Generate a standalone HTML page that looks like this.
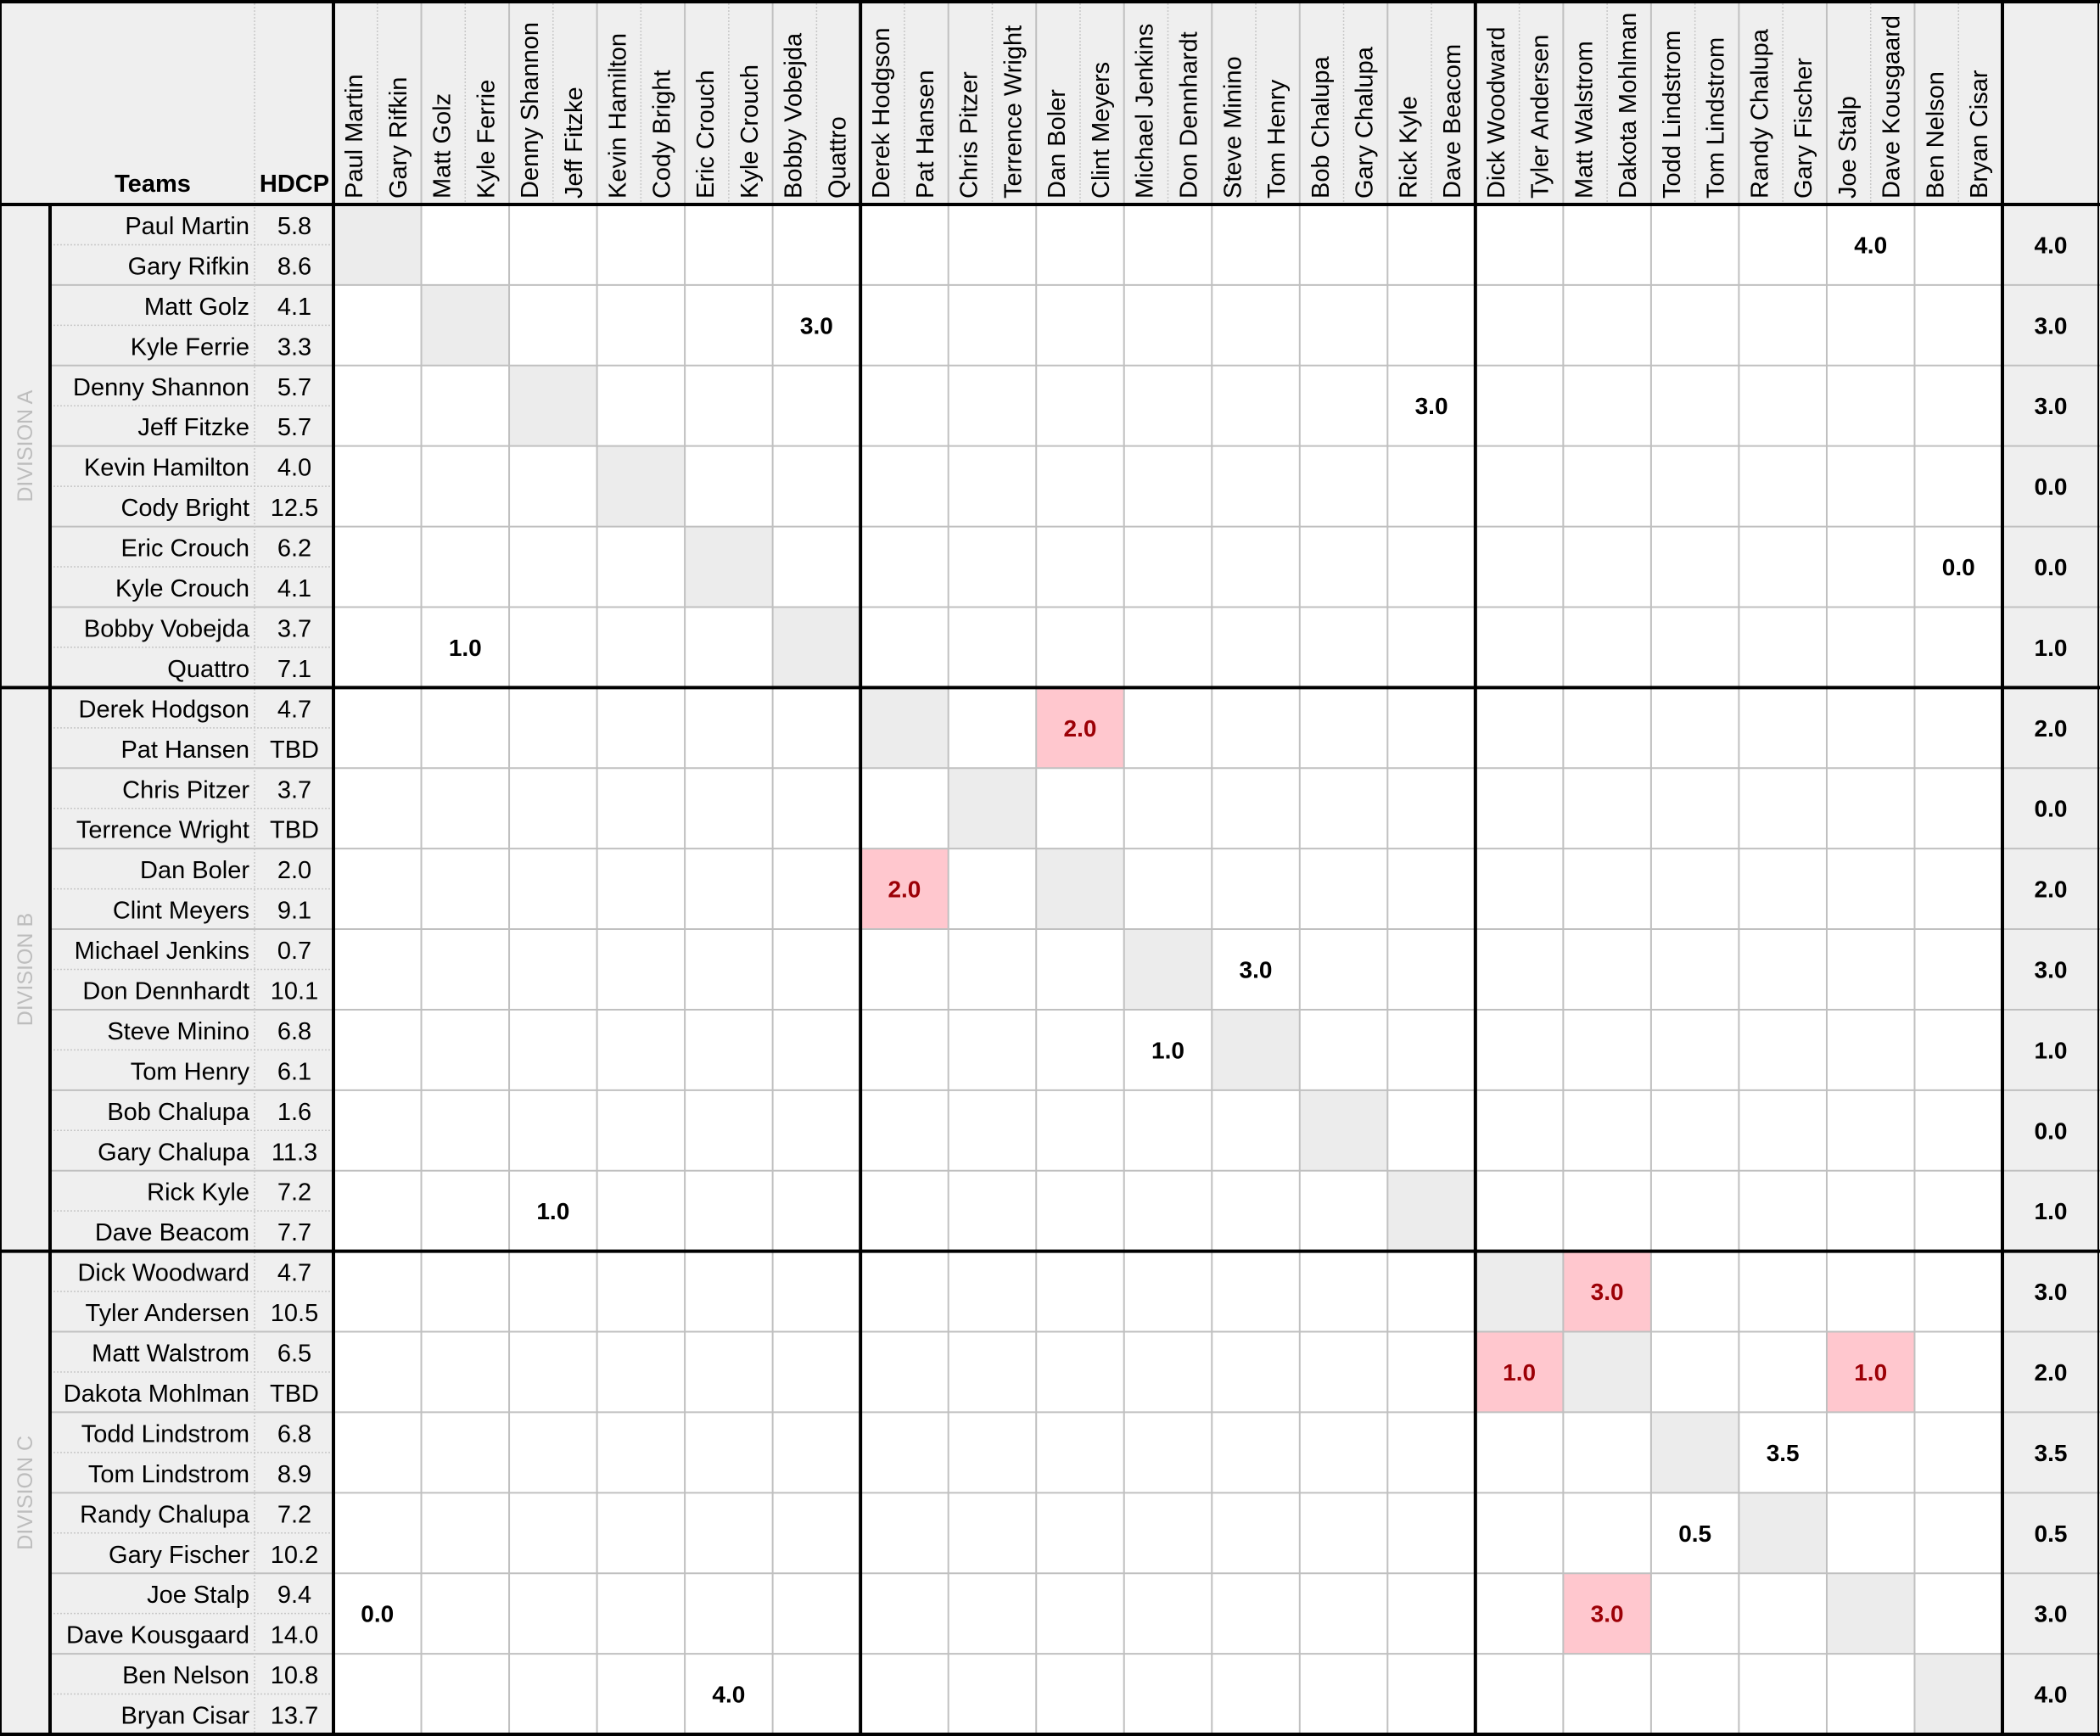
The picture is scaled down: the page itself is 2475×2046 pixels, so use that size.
<!DOCTYPE html>
<html><head><meta charset="utf-8"><style>
html,body{margin:0;padding:0;background:#fff;}
svg{display:block;font-family:"Liberation Sans",sans-serif;}
</style></head><body>
<svg id="chart" width="2475" height="2046" viewBox="0 0 2475 2046" xmlns="http://www.w3.org/2000/svg"></svg>
<script>
const players = ["Paul Martin","Gary Rifkin","Matt Golz","Kyle Ferrie","Denny Shannon","Jeff Fitzke","Kevin Hamilton","Cody Bright","Eric Crouch","Kyle Crouch","Bobby Vobejda","Quattro","Derek Hodgson","Pat Hansen","Chris Pitzer","Terrence Wright","Dan Boler","Clint Meyers","Michael Jenkins","Don Dennhardt","Steve Minino","Tom Henry","Bob Chalupa","Gary Chalupa","Rick Kyle","Dave Beacom","Dick Woodward","Tyler Andersen","Matt Walstrom","Dakota Mohlman","Todd Lindstrom","Tom Lindstrom","Randy Chalupa","Gary Fischer","Joe Stalp","Dave Kousgaard","Ben Nelson","Bryan Cisar"];
const hdcp = ["5.8","8.6","4.1","3.3","5.7","5.7","4.0","12.5","6.2","4.1","3.7","7.1","4.7","TBD","3.7","TBD","2.0","9.1","0.7","10.1","6.8","6.1","1.6","11.3","7.2","7.7","4.7","10.5","6.5","TBD","6.8","8.9","7.2","10.2","9.4","14.0","10.8","13.7"];
const divisions = ["DIVISION A","DIVISION B","DIVISION C"];
const divisionTeams = [6,7,6];
// results: [team, opponent, points, highlighted]
const resultTeam = [0,1,2,4,5,6,8,9,10,12,13,14,14,15,16,17,17,18];
const resultOpp  = [17,5,12,18,1,8,6,10,9,2,14,13,17,16,15,0,14,4];
const resultPts  = [4,3,3,0,1,2,2,3,1,1,3,1,1,3.5,0.5,0,3,4];
const resultPink = [0,0,0,0,0,1,1,0,0,0,1,1,1,0,0,0,1,0];

const svg = document.getElementById('chart');
const NS = "http://www.w3.org/2000/svg";
const X0 = 393, X1 = 2360, Y0 = 241, Y1 = 2044;
const cw = (X1 - X0) / players.length, rh = (Y1 - Y0) / players.length;
const colX = i => X0 + i * cw;
const rowY = i => Y0 + i * rh;
function mk(tag, attrs, parent) {
  const e = document.createElementNS(NS, tag);
  for (const k in attrs) e.setAttribute(k, attrs[k]);
  (parent || svg).appendChild(e);
  return e;
}
// backgrounds
let e;
e = mk('rect', {x:0,y:0,width:2475,height:2046,fill:'#efefef'});


e = mk('rect', {x:X0,y:Y0,width:X1-X0,height:Y1-Y0,fill:'#ffffff'});


const nT = players.length / 2;
// diagonal blocks
for (let t = 0; t < nT; t++) {
  e = mk('rect', {x:colX(2*t),y:rowY(2*t),width:2*cw,height:2*rh,fill:'#ececec'});
  
  
}
// pink result cells
for (let i = 0; i < resultTeam.length; i++) {
  if (resultPink[i]) {
    e = mk('rect', {x:colX(2*resultOpp[i]),y:rowY(2*resultTeam[i]),width:2*cw,height:2*rh,fill:'#ffc7ce'});
    
    
  }
}
// grid lines
for (let i = 1; i < players.length; i++) {
  const x = colX(i), y = rowY(i);
  if (i % 2 === 0) {
    mk('line', {x1:x,y1:0,x2:x,y2:Y1,stroke:'#c0c0c0','stroke-width':2});
    mk('line', {x1:59,y1:y,x2:2475,y2:y,stroke:'#c0c0c0','stroke-width':2});
  } else {
    mk('line', {x1:x,y1:0,x2:x,y2:Y0,stroke:'#c8c8c8','stroke-width':1.5,'stroke-dasharray':'2,2'});
    mk('line', {x1:59,y1:y,x2:X0,y2:y,stroke:'#c8c8c8','stroke-width':1.5,'stroke-dasharray':'2,2'});
  }
}
mk('line', {x1:300,y1:0,x2:300,y2:Y1,stroke:'#c8c8c8','stroke-width':1.5,'stroke-dasharray':'2,2'});
// thick lines
const thick = [[0,2,2475,2],[0,Y0,2475,Y0],[0,Y1,2475,Y1],[X0,0,X0,Y1],[X1,0,X1,Y1],[59,Y0,59,Y1],[1,0,1,Y1],[2473,0,2473,Y1]];
let acc = 0;
divisionTeams.forEach((n, k) => {
  acc += n * 2;
  if (k < divisionTeams.length - 1) {
    thick.push([0, rowY(acc), 2475, rowY(acc)]);
    thick.push([colX(acc), 0, colX(acc), Y1]);
  }
});
thick.forEach((l, i) => {
  const w = (i === 6 || i === 7) ? 2 : 4;
  e = mk('line', {x1:l[0],y1:l[1],x2:l[2],y2:l[3],stroke:'#000','stroke-width':w});
  
  
});
// header labels
e = mk('text', {x:180,y:226,'font-size':29,'font-weight':'bold','text-anchor':'middle'});
e.textContent = 'Teams';


e = mk('text', {x:347,y:226,'font-size':29,'font-weight':'bold','text-anchor':'middle'});
e.textContent = 'HDCP';


players.forEach((p, i) => {
  const x = colX(i) + 34, y = 234;
  e = mk('text', {x:x,y:y,'font-size':29,transform:`rotate(-90 ${x} ${y})`});
  e.textContent = p;
  
  
  e = mk('text', {x:294,y:rowY(i)+35,'font-size':29,'text-anchor':'end'});
  e.textContent = p;
  
  
  e = mk('text', {x:347,y:rowY(i)+35,'font-size':29,'text-anchor':'middle'});
  e.textContent = hdcp[i];
  
  
});
// division labels
acc = 0;
divisions.forEach((d, k) => {
  const yc = (rowY(acc) + rowY(acc + divisionTeams[k] * 2)) / 2;
  acc += divisionTeams[k] * 2;
  e = mk('text', {x:38,y:yc,'font-size':25,fill:'#bdbdbd','text-anchor':'middle',transform:`rotate(-90 38 ${yc})`});
  e.textContent = d;
  
  
});
// results
const totals = new Array(nT).fill(0);
for (let i = 0; i < resultTeam.length; i++) {
  totals[resultTeam[i]] += resultPts[i];
  const cx = colX(2*resultOpp[i]) + cw, cy = rowY(2*resultTeam[i]) + rh + 10;
  e = mk('text', {x:cx,y:cy,'font-size':28,'font-weight':'bold','text-anchor':'middle',fill:resultPink[i]?'#9c0006':'#000'});
  e.textContent = resultPts[i].toFixed(1);
  
  
}
totals.forEach((t, i) => {
  e = mk('text', {x:2417,y:rowY(2*i)+rh+10,'font-size':28,'font-weight':'bold','text-anchor':'middle'});
  e.textContent = t.toFixed(1);
  
  
});
</script>
</body></html>
